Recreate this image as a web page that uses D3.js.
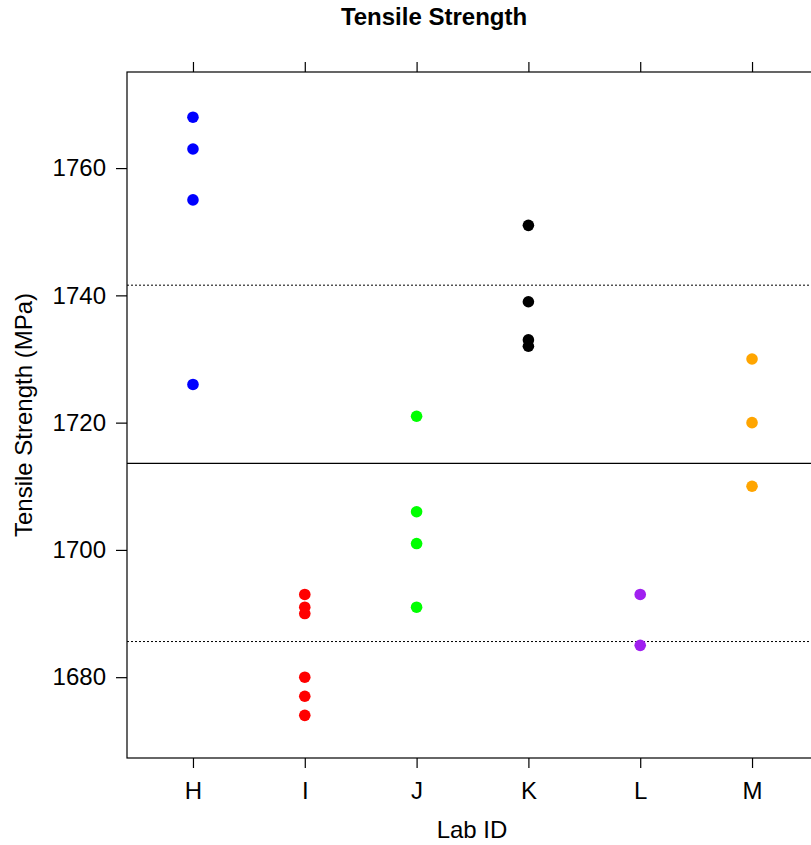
<!DOCTYPE html>
<html>
<head>
<meta charset="utf-8">
<script src="https://cdn.jsdelivr.net/npm/d3@7"></script>
<style>
  body { margin: 0; background: #fff; }
  text { font-family: "Liberation Sans", Arial, sans-serif; }
</style>
</head>
<body>
<div id="chart"></div>
<script>
// lab ids and measured tensile strength (MPa) per lab
var labs = ["H", "I", "J", "K", "L", "M"];
var labColors = ["#0000ff", "#ff0000", "#00ff00", "#000000", "#a020f0", "#ffa500"];
var valuesH = [1768, 1763, 1755, 1726];
var valuesI = [1693, 1691, 1690, 1680, 1677, 1674];
var valuesJ = [1721, 1706, 1701, 1691];
var valuesK = [1751, 1739, 1733, 1732];
var valuesL = [1693, 1685];
var valuesM = [1730, 1720, 1710];
var yTicks = [1680, 1700, 1720, 1740, 1760];
var centerLine = 1713.6;
var limitLines = [1685.6, 1741.6];

var allValues = [valuesH, valuesI, valuesJ, valuesK, valuesL, valuesM];
var points = [];
allValues.forEach(function(vals, i) {
  vals.forEach(function(v) { points.push({lab: labs[i], value: v, color: labColors[i]}); });
});

var W = 811, H = 845;
var margin = {top: 72, right: -7, bottom: 87, left: 127};
var width = W - margin.left - margin.right,
    height = H - margin.top - margin.bottom;

var svg = d3.select("#chart").append("svg")
    .attr("width", W).attr("height", H);

var g = svg.append("g")
    .attr("transform", "translate(" + margin.left + "," + margin.top + ")");

// x: lab positions 1..6, padded like R's stripchart
var xIdx = d3.scaleLinear().domain([0.41, 6.59]).range([0, width]);
var x = function(lab) { return xIdx(labs.indexOf(lab) + 1); };

var y = d3.scaleLinear().domain([1667.3, 1775.1]).range([height, 0]);

// reference lines
g.append("line")
  .attr("x1", 0).attr("x2", width)
  .attr("y1", y(centerLine)).attr("y2", y(centerLine))
  .attr("stroke", "#000").attr("stroke-width", 1.2);

g.selectAll(".limit")
  .data(limitLines)
  .enter().append("line")
  .attr("x1", 0).attr("x2", width)
  .attr("y1", function(d) { return y(d); }).attr("y2", function(d) { return y(d); })
  .attr("stroke", "#000").attr("stroke-width", 1)
  .attr("stroke-dasharray", "2,2");

// points
g.selectAll(".pt")
  .data(points)
  .enter().append("circle")
  .attr("cx", function(d) { return x(d.lab); })
  .attr("cy", function(d) { return y(d.value); })
  .attr("r", 5.8)
  .attr("fill", function(d) { return d.color; });

// frame
g.append("rect")
  .attr("width", width).attr("height", height)
  .attr("fill", "none").attr("stroke", "#000").attr("stroke-width", 1.2);

// axes
var xAxis = d3.axisBottom(xIdx)
  .tickValues(d3.range(1, labs.length + 1))
  .tickFormat(function(d) { return labs[d - 1]; })
  .tickSize(10).tickPadding(14);

var xg = g.append("g")
  .attr("transform", "translate(0," + height + ")")
  .call(xAxis);

var xTop = g.append("g")
  .call(d3.axisTop(xIdx).tickValues(d3.range(1, labs.length + 1)).tickSize(10).tickFormat(""));

var yg = g.append("g")
  .call(d3.axisLeft(y).tickValues(yTicks).tickSize(11).tickPadding(10).tickFormat(d3.format("d")));

[xg, xTop, yg].forEach(function(a) {
  a.select(".domain").remove();
  a.selectAll(".tick line").attr("stroke", "#000").attr("stroke-width", 1.2);
  a.selectAll("text").attr("fill", "#000").style("font-size", "24px")
    .style("font-family", "'Liberation Sans', Arial, sans-serif");
});

// titles
svg.append("text")
  .attr("x", 434).attr("y", 25)
  .attr("text-anchor", "middle")
  .style("font-size", "24px").style("font-weight", "bold")
  .text("Tensile Strength");

svg.append("text")
  .attr("x", 472).attr("y", 838)
  .attr("text-anchor", "middle")
  .style("font-size", "24px")
  .text("Lab ID");

svg.append("text")
  .attr("transform", "translate(32,415)rotate(-90)")
  .attr("text-anchor", "middle")
  .style("font-size", "24px")
  .text("Tensile Strength (MPa)");
</script>
</body>
</html>
